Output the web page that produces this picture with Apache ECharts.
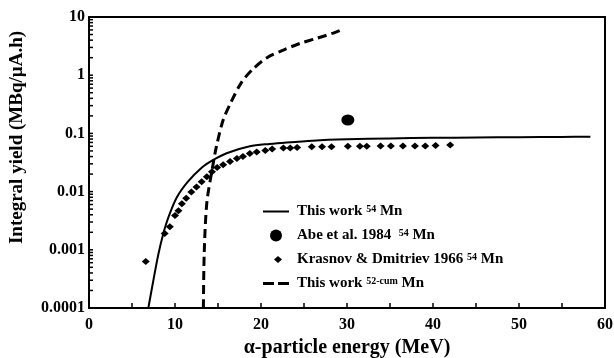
<!DOCTYPE html>
<html>
<head>
<meta charset="utf-8">
<script src="https://cdn.jsdelivr.net/npm/echarts@6/dist/echarts.min.js"></script>
<style>
  html, body { margin: 0; padding: 0; background: #fff; }
  #chart { width: 614px; height: 358px; }
</style>
</head>
<body>
<div id="chart"></div>
<script>
// This work 54Mn (solid curve)
var work54E = [6.9, 7.45, 8.06, 8.6, 9.2, 10.2, 11.5, 13.1, 14.4, 16, 18.7, 21, 23, 26, 30, 35, 40, 45, 50, 55, 58.3];
var work54Y = [0.0001, 0.00028, 0.00083, 0.0018, 0.0035, 0.0079, 0.0148, 0.0257, 0.0347, 0.0457, 0.06, 0.066, 0.07, 0.075, 0.079, 0.082, 0.084, 0.085, 0.086, 0.087, 0.088];

// Abe et al. 1984
var abeE = [30.1];
var abeY = [0.17];

// Krasnov & Dmitriev 1966
var krasE = [6.6, 8.8, 9.4, 10.0, 10.4, 10.8, 11.3, 11.9, 12.5, 13.1, 13.7, 14.3, 14.9, 15.6, 16.4, 17.2, 17.9, 18.7, 19.5, 20.5, 21.3,
             22.6, 23.4, 24.2, 25.9, 27.1, 28.2, 30.1, 31.5, 32.3, 33.9, 35.1, 36.5, 37.9, 39.1, 40.3, 42.0];
var krasY = [0.00063, 0.0019, 0.0025, 0.0039, 0.0047, 0.0062, 0.0077, 0.0098, 0.012, 0.0147, 0.018, 0.022, 0.026, 0.029, 0.033, 0.037, 0.040, 0.045, 0.048, 0.051, 0.054,
             0.056, 0.056, 0.057, 0.059, 0.059, 0.059, 0.060, 0.060, 0.060, 0.061, 0.061, 0.061, 0.061, 0.061, 0.062, 0.063];

// This work 52-cum Mn (dashed curve)
var work52E = [13.3, 13.4, 13.7, 14.3, 14.8, 15.6, 16.5, 17.7, 19, 20.7, 22.6, 24.5, 26.5, 28.4, 29.6];
var work52Y = [0.0001, 0.0009, 0.0064, 0.023, 0.058, 0.17, 0.34, 0.74, 1.25, 2.0, 2.7, 3.5, 4.3, 5.3, 6.2];

var xTicks = [0, 10, 20, 30, 40, 50, 60];
var xTickMarks = [5, 10, 15, 20, 25, 30, 35, 40, 45, 50, 55];
var yTickLabels = ['0.0001', '0.001', '0.01', '0.1', '1', '10'];

var FONT = '"Liberation Serif", "DejaVu Serif", serif';

function pairs(xs, ys) {
	var res = [];
	for (var i = 0; i < xs.length; i++) {
		res.push([xs[i], ys[i]]);
	}
	return res;
}

// log minor tick positions 1..9 x 10^n
var yTickValues = [];
for (var d = -4; d <= 0; d++) {
	for (var m = 1; m <= 9; m++) {
		yTickValues.push(+(m * Math.pow(10, d)).toPrecision(3));
	}
}

var legendText = {
	work54: 'This work {sup|54} Mn',
	abe: 'Abe et al. 1984  {sup|54} Mn',
	kras: 'Krasnov & Dmitriev 1966 {sup|54} Mn',
	work52: 'This work {sup|52-cum} Mn'
};

/**
 * 只画轴线的辅助轴
 */
function lineAxis(type, position) {
	var ax = {
		type: type,
		position: position,
		axisLine: { show: true, onZero: false, lineStyle: { color: '#000', width: 2 } },
		axisTick: { show: false },
		axisLabel: { show: false },
		splitLine: { show: false }
	};
	if (type === 'log') { ax.min = 0.0001; ax.max = 10; }
	else { ax.min = 0; ax.max = 60; ax.interval = 10; }
	return ax;
}

/**
 * 刻度线：按坐标轴换算位置画短线
 */
function tickRenderer(dx, dy) {
	return function(params, api) {
		var p = api.coord([api.value(0), api.value(1)]);
		return {
			type: 'line',
			shape: { x1: p[0], y1: p[1], x2: p[0] + dx, y2: p[1] + dy },
			style: { stroke: '#000', lineWidth: 1.5 }
		};
	};
}

var myChart = echarts.init(document.getElementById('chart'));

var option = {
	animation: false,
	backgroundColor: '#fff',
	grid: {
		left: 89, right: 9, top: 17, bottom: 50,
		containLabel: false,
		outerBoundsMode: 'none'
	},
	legend: {
		orient: 'vertical',
		left: 258,
		top: 199,
		itemWidth: 26,
		itemHeight: 12,
		itemGap: 9,
		symbolKeepAspect: true,
		data: [
			{ name: 'work54', icon: 'path://M0,0 L26,0 L26,2 L0,2 Z' },
			{ name: 'abe', icon: 'circle' },
			{ name: 'kras', icon: 'path://M0,0 L0.01,0 Z M8,2.5 L12,6 L8,9.5 L4,6 Z M0,12 L0.01,12 Z' },
			{ name: 'work52', icon: 'path://M0,0 L11,0 L11,3 L0,3 Z M15,0 L26,0 L26,3 L15,3 Z' }
		],
		formatter: function(name) {
			return legendText[name];
		},
		textStyle: {
			fontFamily: FONT,
			fontWeight: 'bold',
			fontSize: 15,
			color: '#000',
			padding: [0, 0, 0, 3],
			rich: {
				sup: {
					fontFamily: FONT,
					fontWeight: 'bold',
					fontSize: 10,
					color: '#000',
					verticalAlign: 'top',
					lineHeight: 10
				}
			}
		}
	},
	xAxis: [{
		type: 'value',
		position: 'bottom',
		min: 0, max: 60, interval: 10,
		name: 'α-particle energy (MeV)',
		nameLocation: 'middle',
		nameGap: 27,
		nameTextStyle: { fontFamily: FONT, fontWeight: 'bold', fontSize: 20, color: '#000' },
		axisLine: { show: false, onZero: false },
		axisTick: { show: false },
		splitLine: { show: false },
		axisLabel: {
			margin: 9,
			fontFamily: FONT, fontWeight: 'bold', fontSize: 16, color: '#000',
			formatter: function(v) { return xTicks.indexOf(v) >= 0 ? String(v) : ''; }
		}
	},
	lineAxis('value', 'top'),
	lineAxis('value', 'bottom')
	],
	yAxis: [{
		type: 'log',
		position: 'left',
		min: 0.0001, max: 10,
		name: 'Integral yield (MBq/µA.h)',
		nameLocation: 'middle',
		nameGap: 62,
		nameTextStyle: { fontFamily: FONT, fontWeight: 'bold', fontSize: 19, color: '#000', padding: [0, 0, 0, 50] },
		axisLine: { show: false, onZero: false },
		axisTick: { show: false },
		splitLine: { show: false },
		axisLabel: {
			margin: 4,
			fontFamily: FONT, fontWeight: 'bold', fontSize: 16, color: '#000',
			formatter: function(v) {
				var e = Math.round(Math.log(v) / Math.LN10);
				return yTickLabels[e + 4];
			}
		}
	},
	lineAxis('log', 'right'),
	lineAxis('log', 'left')
	],
	series: [
		{
			name: 'work54',
			type: 'line',
			data: pairs(work54E, work54Y),
			symbol: 'none',
			smooth: 0.3,
			lineStyle: { color: '#000', width: 2 },
			itemStyle: { color: '#000' },
			z: 3
		},
		{
			name: 'abe',
			type: 'scatter',
			data: pairs(abeE, abeY),
			symbol: 'circle',
			symbolSize: [13, 11],
			itemStyle: { color: '#000', opacity: 1 },
			z: 4
		},
		{
			name: 'kras',
			type: 'scatter',
			data: pairs(krasE, krasY),
			symbol: 'diamond',
			symbolSize: [8, 7],
			itemStyle: { color: '#000', opacity: 1 },
			z: 4
		},
		{
			name: 'work52',
			type: 'line',
			data: pairs(work52E, work52Y),
			symbol: 'none',
			smooth: 0.3,
			lineStyle: { color: '#000', width: 3, type: [9, 5] },
			itemStyle: { color: '#000' },
			z: 3
		},
		{
			name: 'yTicks',
			type: 'custom',
			silent: true,
			clip: false,
			z: 5,
			data: yTickValues.map(function(v) { return [0, v]; }),
			renderItem: tickRenderer(4, 0)
		},
		{
			name: 'xTicks',
			type: 'custom',
			silent: true,
			clip: false,
			z: 5,
			data: xTickMarks.map(function(v) { return [v, 0.0001]; }),
			renderItem: tickRenderer(0, -5)
		}
	]
};

myChart.setOption(option);
</script>
</body>
</html>
